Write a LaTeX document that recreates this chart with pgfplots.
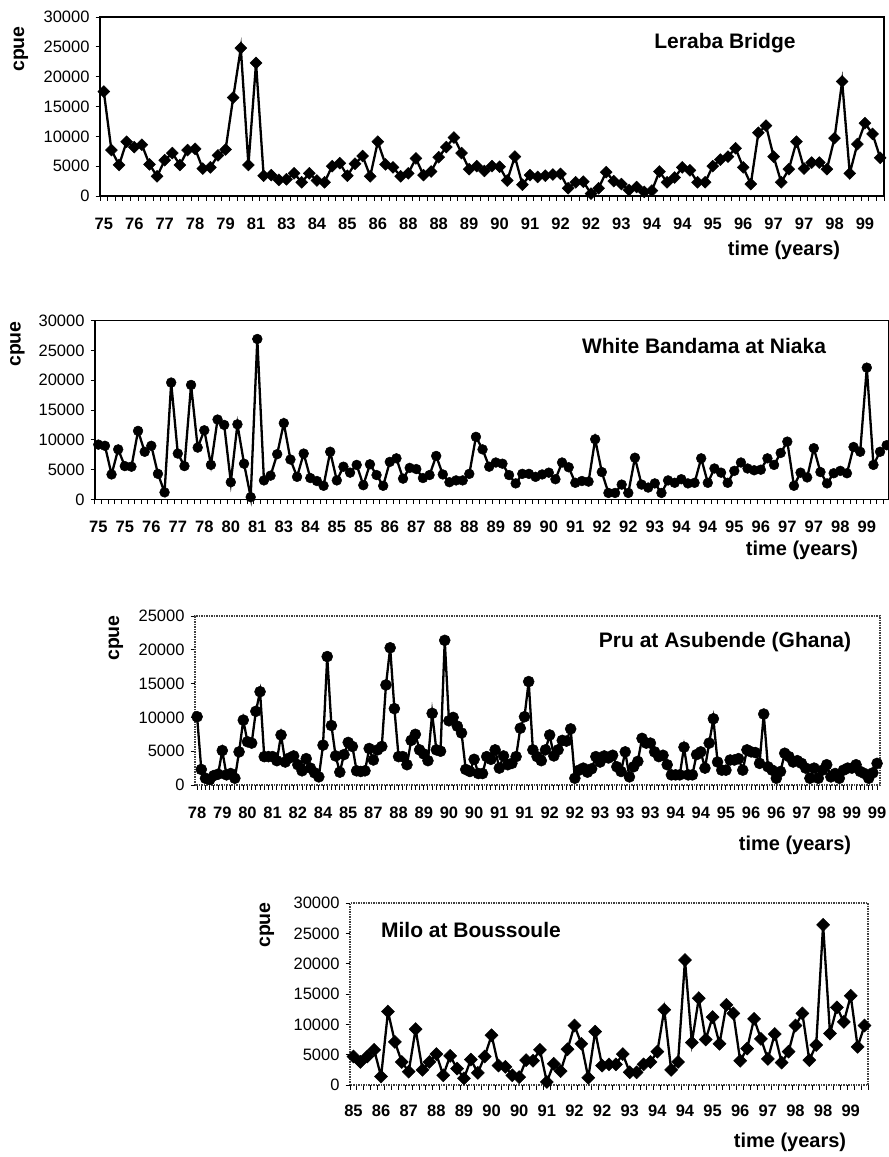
\documentclass[border=0pt]{standalone}
\usepackage{fontspec}
\setmainfont{Liberation Sans}
\usepackage{pgfplots}
\usepackage{pgfplotstable}
\pgfplotsset{compat=1.18}

% catch per unit effort, one column per station, one row per sample
\pgfplotstableread{
cpue
17500
7700
5200
9100
8200
8600
5300
3300
6000
7200
5200
7700
7900
4600
4800
6800
7800
16500
24800
5200
22300
3400
3500
2700
2800
3800
2300
3800
2600
2300
5000
5500
3400
5400
6700
3300
9100
5300
4800
3300
3800
6300
3500
4100
6500
8200
9800
7200
4500
5000
4200
5000
4900
2600
6600
1900
3500
3200
3400
3600
3700
1300
2300
2400
400
1300
4000
2500
2000
1000
1500
700
900
4100
2300
3100
4800
4300
2300
2300
5000
6100
6600
8000
4800
2000
10600
11800
6600
2300
4500
9100
4600
5600
5600
4500
9700
19200
3800
8700
12200
10400
6400
}\leraba

\pgfplotstableread{
cpue
9200
9000
4200
8400
5600
5500
11500
8000
9000
4300
1200
19600
7700
5600
19200
8700
11600
5800
13400
12500
2900
12600
6000
400
26900
3200
4000
7600
12800
6700
3800
7700
3600
3100
2300
8000
3200
5500
4500
5800
2400
5900
4100
2300
6300
6900
3500
5300
5100
3600
4100
7300
4200
2900
3200
3200
4300
10500
8400
5500
6200
6000
4100
2700
4300
4300
3800
4200
4500
3400
6200
5400
2800
3100
3000
10100
4600
1100
1100
2500
1100
7000
2500
2000
2700
1100
3200
2800
3400
2700
2800
6900
2800
5200
4500
2800
4800
6200
5200
4900
5000
6900
5800
7800
9700
2300
4500
3700
8600
4600
2700
4400
4800
4400
8800
8000
22100
5800
8000
9100
}\niaka

\pgfplotstableread{
cpue
10100
2300
1000
800
1400
1600
5100
1500
1700
1000
4900
9600
6400
6200
10900
13800
4200
4200
4200
3600
7400
3400
4000
4300
3000
2100
3900
2500
1800
1200
5900
19000
8800
4300
1900
4500
6300
5700
2100
2000
2100
5400
3700
5200
5700
14800
20300
11300
4200
4200
3000
6600
7500
5200
4600
3600
10600
5200
5000
21400
9500
10000
8700
7700
2300
2000
3800
1700
1700
4200
3800
5200
2500
4300
3000
3200
4200
8400
10100
15300
5200
4200
3600
5200
7400
4300
5200
6600
6500
8300
1000
2200
2500
1900
2400
4200
3400
4300
4000
4400
2700
2000
4900
1200
2700
3500
6900
6200
6200
4900
4200
4400
3000
1500
1500
1500
5600
1500
1500
4500
4900
2500
6200
9800
3400
2200
2200
3700
3700
3900
2200
5200
4900
4800
3200
10500
2700
2200
1000
2000
4700
4200
3400
3600
3200
2500
1000
2500
1000
2200
3000
1200
1700
1000
2200
2500
2500
3000
2000
1700
1000
1800
3200
}\asubende

\pgfplotstableread{
cpue
4700
3800
4700
5800
1400
12100
7100
3800
2200
9200
2500
3800
5100
1600
4800
2700
1100
4200
2000
4700
8200
3200
3000
1600
1300
4100
4000
5800
500
3500
2300
5900
9800
6800
1200
8800
3200
3400
3400
5100
2100
2100
3400
3800
5500
12400
2500
3800
20600
7000
14300
7500
11200
6800
13200
11800
4000
6000
10900
7600
4300
8400
3700
5500
9800
11800
4100
6600
26400
8500
12800
10400
14700
6300
9800
}\boussoule

\pgfplotsset{
  cpuepanel/.style={
    scale only axis,
    anchor=north west,
    ymin=0,
    clip=false,
    axis line style={black, line width=1.8pt},
    tick align=outside,
    tick pos=left,
    major tick length=0pt,
    minor tick length=4.5pt,
    minor tick style={black, line width=1pt},
    yticklabel style={font=\fontsize{16.5}{16.5}\selectfont, xshift=-7pt},
    xticklabel style={font=\bfseries\fontsize{16.5}{16.5}\selectfont,
      text height=11.8pt, text depth=0pt, yshift=-11pt},
    /pgf/number format/assume math mode=true,
    /pgf/number format/1000 sep={},
    scaled y ticks=false,
  },
  dotframe/.style={axis line style={black!75, line width=1.5pt, densely dotted}},
  diamondline/.style={black, line width=2.3pt, mark=square*,
    mark options={rotate=45, solid, line width=0.5pt}, mark size=#1},
  dotline/.style={black, line width=2.3pt, mark=*,
    mark options={solid, line width=0.5pt}, mark size=#1},
}

\tikzset{
  paneltitle/.style={font=\bfseries\fontsize{21}{21}\selectfont},
  timelabel/.style={font=\bfseries\fontsize{20}{20}\selectfont},
  cpuelabel/.style={font=\bfseries\fontsize{19.5}{19.5}\selectfont, rotate=90},
}

\begin{document}
\begin{tikzpicture}
\useasboundingbox (0,0) rectangle (889pt,-1157pt);

% Leraba Bridge
\begin{axis}[cpuepanel, at={(100pt,-17pt)}, width=784pt, height=179pt,
  axis line style={line width=2.2pt},
  xmin=-0.5, xmax=102.5, ymax=30000,
  ytick={0,5000,...,30000}, minor ytick={0,5000,...,30000},
  xtick={0,4,...,100}, minor xtick={-0.5,0.5,...,102.5},
  xticklabels={75,76,77,78,79,81,83,84,85,86,88,88,89,90,91,92,92,93,94,94,95,96,97,97,98,99},
  xticklabel style={yshift=-7pt}]
\addplot[diamondline=4.2pt] table[x expr=\coordindex, y=cpue] {\leraba};
\end{axis}
\node[cpuelabel] at (21pt,-49pt) {cpue};
\node[paneltitle] at (725pt,-43pt) {Leraba Bridge};
\node[timelabel] at (784pt,-250pt) {time (years)};

% White Bandama at Niaka
\begin{axis}[cpuepanel, at={(95pt,-320.5pt)}, width=794pt, height=179pt,
  axis line style={line width=1.4pt},
  xmin=-0.5, xmax=119.35, ymax=30000,
  ytick={0,5000,...,30000}, minor ytick={0,5000,...,30000},
  xtick={0,4,...,116}, minor xtick={-0.5,0.5,...,118.5},
  xticklabels={75,75,76,77,78,80,81,83,84,85,85,86,87,88,88,89,89,90,91,92,92,93,94,94,95,96,97,97,98,99},
  xticklabel style={yshift=-7pt}]
\addplot[dotline=4.9pt] table[x expr=\coordindex, y=cpue] {\niaka};
\end{axis}
\node[cpuelabel] at (17.5pt,-344pt) {cpue};
\node[paneltitle] at (704pt,-346pt) {White Bandama at Niaka};
\node[timelabel] at (802pt,-550pt) {time (years)};

% Pru at Asubende (Ghana)
\begin{axis}[cpuepanel, dotframe, at={(195pt,-616pt)}, width=685pt, height=169pt,
  xmin=-0.5, xmax=162.7, ymax=25000,
  ytick={0,5000,...,25000}, minor ytick={0,5000,...,25000},
  xtick={0,6,...,162}, minor xtick={0,1,...,162},
  xticklabels={78,79,80,81,82,84,85,87,88,89,90,90,91,91,92,92,93,93,93,94,94,95,96,96,97,98,99,99},
  xticklabel style={yshift=-7pt}]
\addplot[dotline=5.5pt] table[x expr=\coordindex, y=cpue] {\asubende};
\end{axis}
\node[cpuelabel] at (116pt,-638pt) {cpue};
\node[paneltitle] at (725pt,-642pt) {Pru at Asubende (Ghana)};
\node[timelabel] at (795pt,-845pt) {time (years)};

% Milo at Boussoule
\begin{axis}[cpuepanel, dotframe, at={(350pt,-903pt)}, width=518pt, height=182pt,
  xmin=-0.5, xmax=74.5, ymax=30000,
  ytick={0,5000,...,30000}, minor ytick={0,5000,...,30000},
  xtick={0,4,...,72}, minor xtick={-0.5,0.5,...,74.5},
  xticklabels={85,86,87,88,89,90,90,91,92,92,93,94,94,95,96,97,98,98,99},
  xticklabel style={yshift=-5pt}]
\addplot[diamondline=4.6pt] table[x expr=\coordindex, y=cpue] {\boussoule};
\end{axis}
\node[cpuelabel] at (267pt,-925pt) {cpue};
\node[paneltitle] at (471pt,-930pt) {Milo at Boussoule};
\node[timelabel] at (790pt,-1142pt) {time (years)};
\end{tikzpicture}
\end{document}
